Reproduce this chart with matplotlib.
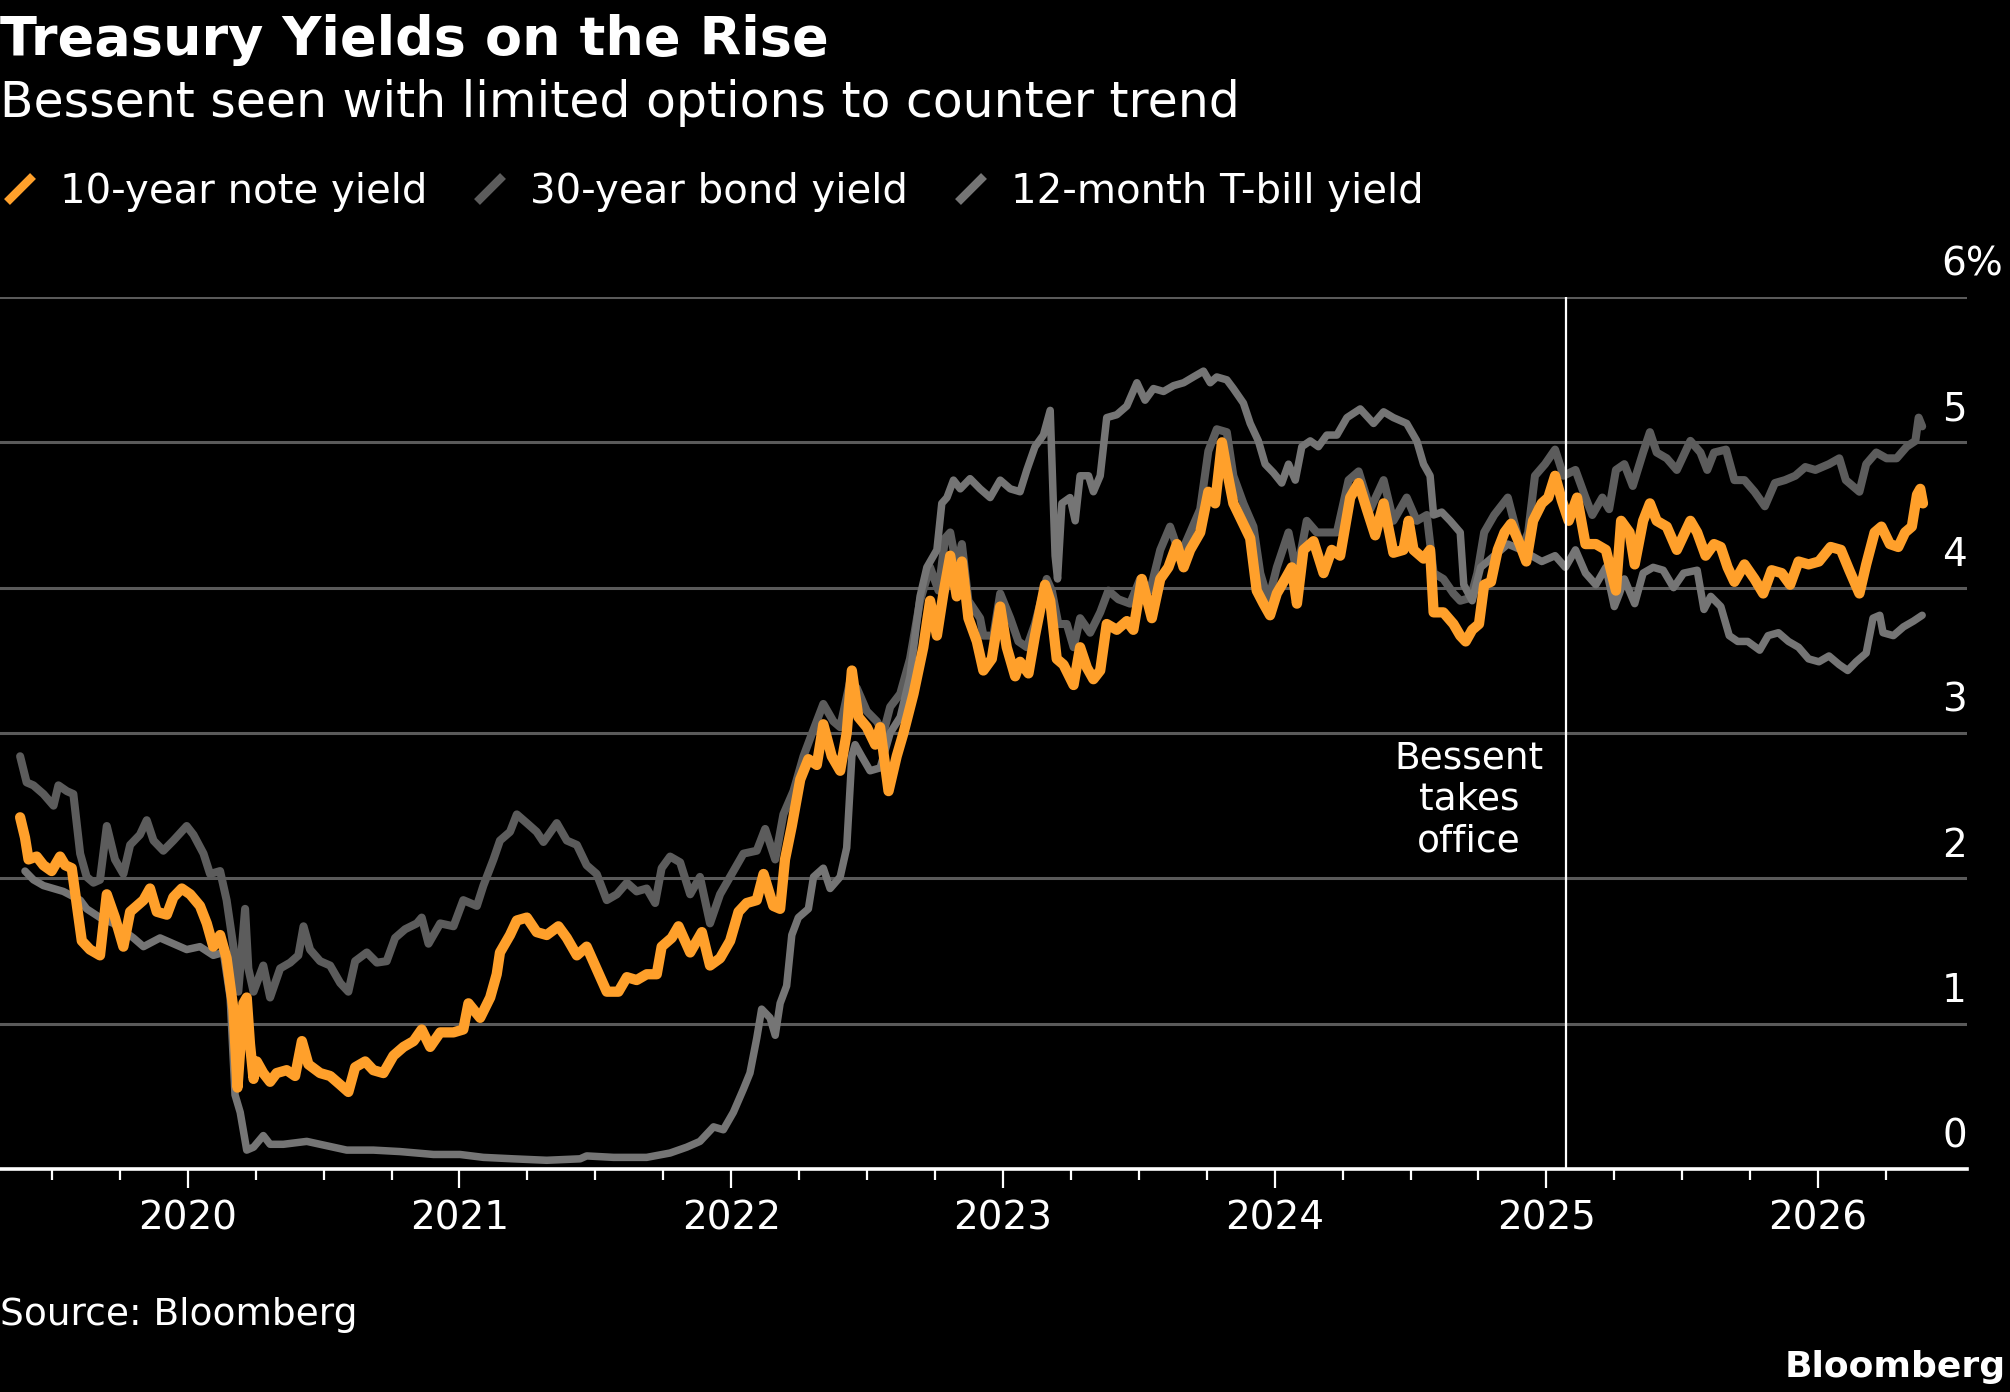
import matplotlib
matplotlib.use("Agg")
import matplotlib.pyplot as plt
import matplotlib.transforms as mtransforms
from matplotlib.lines import Line2D
import numpy as np

# dates as decimal years, yields in percent
t10 = [2019.383, 2019.401, 2019.414, 2019.444, 2019.469, 2019.499, 2019.530, 2019.549,
       2019.573, 2019.610, 2019.640, 2019.677, 2019.702, 2019.732, 2019.763, 2019.788,
       2019.837, 2019.861, 2019.886, 2019.923, 2019.947, 2019.978, 2020.009, 2020.045,
       2020.070, 2020.094, 2020.119, 2020.143, 2020.168, 2020.183, 2020.205, 2020.217,
       2020.229, 2020.242, 2020.254, 2020.278, 2020.303, 2020.327, 2020.364, 2020.395,
       2020.420, 2020.444, 2020.487, 2020.524, 2020.561, 2020.591, 2020.616, 2020.653,
       2020.683, 2020.720, 2020.757, 2020.794, 2020.831, 2020.861, 2020.892, 2020.929,
       2020.978, 2021.014, 2021.033, 2021.076, 2021.113, 2021.137, 2021.149, 2021.186,
       2021.211, 2021.248, 2021.284, 2021.321, 2021.364, 2021.395, 2021.432, 2021.468,
       2021.499, 2021.542, 2021.585, 2021.616, 2021.652, 2021.689, 2021.726, 2021.744,
       2021.781, 2021.806, 2021.849, 2021.892, 2021.922, 2021.959, 2021.996, 2022.027,
       2022.057, 2022.094, 2022.119, 2022.155, 2022.180, 2022.198, 2022.223, 2022.254,
       2022.284, 2022.315, 2022.339, 2022.370, 2022.401, 2022.425, 2022.444, 2022.468,
       2022.499, 2022.530, 2022.548, 2022.579, 2022.609, 2022.634, 2022.671, 2022.707,
       2022.732, 2022.757, 2022.781, 2022.806, 2022.830, 2022.849, 2022.873, 2022.904,
       2022.928, 2022.959, 2022.990, 2023.014, 2023.045, 2023.063, 2023.094, 2023.118,
       2023.155, 2023.174, 2023.198, 2023.223, 2023.260, 2023.284, 2023.309, 2023.333,
       2023.358, 2023.382, 2023.419, 2023.456, 2023.480, 2023.511, 2023.548, 2023.579,
       2023.609, 2023.640, 2023.665, 2023.689, 2023.726, 2023.756, 2023.781, 2023.806,
       2023.824, 2023.848, 2023.879, 2023.910, 2023.934, 2023.959, 2023.983, 2024.008,
       2024.039, 2024.063, 2024.082, 2024.106, 2024.143, 2024.180, 2024.210, 2024.241,
       2024.278, 2024.309, 2024.339, 2024.370, 2024.401, 2024.437, 2024.474, 2024.493,
       2024.511, 2024.548, 2024.572, 2024.585, 2024.621, 2024.658, 2024.683, 2024.703,
       2024.727, 2024.752, 2024.771, 2024.796, 2024.821, 2024.846, 2024.870, 2024.902,
       2024.926, 2024.951, 2024.983, 2025.007, 2025.032, 2025.057, 2025.082, 2025.113,
       2025.144, 2025.182, 2025.219, 2025.256, 2025.275, 2025.306, 2025.325, 2025.356,
       2025.381, 2025.406, 2025.443, 2025.480, 2025.505, 2025.530, 2025.555, 2025.586,
       2025.617, 2025.642, 2025.667, 2025.692, 2025.729, 2025.766, 2025.798, 2025.829,
       2025.866, 2025.897, 2025.928, 2025.965, 2026.003, 2026.046, 2026.084, 2026.115,
       2026.152, 2026.177, 2026.208, 2026.233, 2026.264, 2026.295, 2026.320, 2026.345,
       2026.364, 2026.376, 2026.386]
y10 = [2.42, 2.28, 2.13, 2.15, 2.09, 2.05, 2.15, 2.09,
       2.07, 1.57, 1.51, 1.47, 1.89, 1.73, 1.53, 1.77,
       1.85, 1.93, 1.77, 1.75, 1.87, 1.93, 1.89, 1.81,
       1.69, 1.53, 1.61, 1.45, 1.10, 0.56, 1.14, 1.18,
       0.86, 0.62, 0.74, 0.66, 0.60, 0.66, 0.68, 0.64,
       0.88, 0.72, 0.66, 0.64, 0.58, 0.53, 0.70, 0.74,
       0.68, 0.66, 0.78, 0.84, 0.88, 0.96, 0.84, 0.94,
       0.94, 0.96, 1.14, 1.04, 1.18, 1.34, 1.49, 1.61,
       1.71, 1.73, 1.63, 1.61, 1.67, 1.59, 1.47, 1.53,
       1.40, 1.22, 1.22, 1.32, 1.30, 1.34, 1.34, 1.53,
       1.59, 1.67, 1.49, 1.63, 1.40, 1.45, 1.57, 1.77,
       1.83, 1.85, 2.03, 1.81, 1.79, 2.13, 2.36, 2.68,
       2.82, 2.78, 3.06, 2.84, 2.74, 3.00, 3.43, 3.11,
       3.04, 2.92, 3.04, 2.60, 2.84, 3.00, 3.27, 3.59,
       3.91, 3.67, 3.96, 4.22, 3.94, 4.18, 3.79, 3.63,
       3.43, 3.51, 3.87, 3.59, 3.39, 3.49, 3.41, 3.67,
       4.02, 3.91, 3.51, 3.47, 3.33, 3.59, 3.45, 3.37,
       3.43, 3.75, 3.71, 3.77, 3.71, 4.06, 3.79, 4.06,
       4.14, 4.30, 4.14, 4.26, 4.38, 4.66, 4.58, 5.00,
       4.81, 4.58, 4.46, 4.34, 3.98, 3.89, 3.81, 3.96,
       4.06, 4.14, 3.89, 4.26, 4.32, 4.10, 4.26, 4.22,
       4.62, 4.72, 4.54, 4.36, 4.58, 4.24, 4.26, 4.46,
       4.26, 4.20, 4.26, 3.83, 3.83, 3.75, 3.67, 3.63,
       3.71, 3.75, 4.02, 4.04, 4.26, 4.38, 4.44, 4.30,
       4.18, 4.46, 4.58, 4.62, 4.77, 4.60, 4.46, 4.62,
       4.30, 4.30, 4.26, 3.98, 4.46, 4.38, 4.16, 4.46,
       4.58, 4.46, 4.42, 4.26, 4.36, 4.46, 4.38, 4.22,
       4.30, 4.28, 4.14, 4.04, 4.16, 4.06, 3.96, 4.12,
       4.10, 4.02, 4.18, 4.16, 4.18, 4.28, 4.26, 4.12,
       3.96, 4.16, 4.38, 4.42, 4.30, 4.28, 4.38, 4.42,
       4.64, 4.68, 4.58]

t30 = [2019.383, 2019.407, 2019.432, 2019.469, 2019.506, 2019.524, 2019.555, 2019.579,
       2019.604, 2019.628, 2019.653, 2019.677, 2019.702, 2019.732, 2019.763, 2019.788,
       2019.824, 2019.849, 2019.874, 2019.910, 2019.947, 2019.996, 2020.021, 2020.058,
       2020.082, 2020.119, 2020.143, 2020.168, 2020.186, 2020.211, 2020.223, 2020.242,
       2020.278, 2020.303, 2020.340, 2020.377, 2020.407, 2020.426, 2020.450, 2020.487,
       2020.524, 2020.561, 2020.591, 2020.616, 2020.659, 2020.696, 2020.732, 2020.763,
       2020.800, 2020.843, 2020.861, 2020.886, 2020.929, 2020.978, 2021.014, 2021.064,
       2021.088, 2021.125, 2021.149, 2021.186, 2021.211, 2021.248, 2021.284, 2021.309,
       2021.358, 2021.395, 2021.432, 2021.468, 2021.505, 2021.542, 2021.579, 2021.616,
       2021.652, 2021.689, 2021.720, 2021.744, 2021.775, 2021.812, 2021.849, 2021.885,
       2021.922, 2021.959, 2022.008, 2022.045, 2022.094, 2022.125, 2022.162, 2022.192,
       2022.229, 2022.266, 2022.290, 2022.339, 2022.376, 2022.401, 2022.437, 2022.462,
       2022.499, 2022.536, 2022.560, 2022.585, 2022.622, 2022.658, 2022.695, 2022.732,
       2022.763, 2022.787, 2022.806, 2022.830, 2022.849, 2022.873, 2022.916, 2022.928,
       2022.965, 2022.990, 2023.027, 2023.057, 2023.088, 2023.118, 2023.161, 2023.180,
       2023.204, 2023.235, 2023.260, 2023.284, 2023.321, 2023.358, 2023.388, 2023.425,
       2023.468, 2023.505, 2023.542, 2023.579, 2023.615, 2023.652, 2023.689, 2023.726,
       2023.756, 2023.787, 2023.824, 2023.848, 2023.885, 2023.922, 2023.947, 2023.977,
       2024.008, 2024.051, 2024.082, 2024.118, 2024.155, 2024.192, 2024.229, 2024.272,
       2024.309, 2024.352, 2024.401, 2024.437, 2024.486, 2024.523, 2024.560, 2024.585,
       2024.621, 2024.658, 2024.683, 2024.721, 2024.746, 2024.771, 2024.808, 2024.858,
       2024.908, 2024.933, 2024.958, 2024.995, 2025.032, 2025.063, 2025.107, 2025.144,
       2025.169, 2025.206, 2025.231, 2025.256, 2025.287, 2025.318, 2025.356, 2025.381,
       2025.406, 2025.443, 2025.480, 2025.530, 2025.567, 2025.592, 2025.617, 2025.661,
       2025.692, 2025.729, 2025.766, 2025.804, 2025.841, 2025.878, 2025.916, 2025.953,
       2025.990, 2026.040, 2026.078, 2026.102, 2026.152, 2026.177, 2026.214, 2026.252,
       2026.289, 2026.326, 2026.358, 2026.370, 2026.383]
y30 = [2.84, 2.66, 2.64, 2.58, 2.50, 2.64, 2.60, 2.58,
       2.17, 2.01, 1.97, 1.99, 2.36, 2.13, 2.03, 2.23,
       2.30, 2.40, 2.26, 2.19, 2.26, 2.36, 2.30, 2.17,
       2.03, 2.05, 1.85, 1.53, 1.22, 1.79, 1.38, 1.22,
       1.40, 1.18, 1.38, 1.42, 1.47, 1.67, 1.51, 1.43,
       1.40, 1.28, 1.22, 1.43, 1.49, 1.42, 1.43, 1.59,
       1.65, 1.69, 1.73, 1.55, 1.69, 1.67, 1.85, 1.81,
       1.95, 2.13, 2.26, 2.32, 2.44, 2.38, 2.32, 2.25,
       2.38, 2.26, 2.23, 2.09, 2.03, 1.85, 1.89, 1.97,
       1.91, 1.93, 1.83, 2.07, 2.15, 2.11, 1.89, 2.01,
       1.69, 1.89, 2.05, 2.17, 2.19, 2.34, 2.13, 2.44,
       2.60, 2.84, 2.96, 3.20, 3.08, 3.04, 3.35, 3.31,
       3.15, 3.08, 3.00, 3.18, 3.27, 3.51, 3.91, 4.14,
       3.98, 4.34, 4.38, 4.14, 4.30, 3.91, 3.79, 3.67,
       3.67, 3.96, 3.79, 3.63, 3.59, 3.75, 4.06, 3.98,
       3.75, 3.75, 3.59, 3.79, 3.69, 3.83, 3.98, 3.92,
       3.89, 4.06, 3.98, 4.26, 4.42, 4.22, 4.38, 4.54,
       4.94, 5.09, 5.07, 4.77, 4.58, 4.42, 4.10, 3.91,
       4.14, 4.38, 4.10, 4.46, 4.38, 4.38, 4.38, 4.74,
       4.80, 4.54, 4.74, 4.46, 4.62, 4.46, 4.50, 4.10,
       4.06, 3.96, 3.91, 3.93, 4.10, 4.38, 4.50, 4.62,
       4.26, 4.38, 4.77, 4.85, 4.95, 4.77, 4.81, 4.62,
       4.50, 4.62, 4.54, 4.81, 4.85, 4.70, 4.93, 5.07,
       4.93, 4.89, 4.81, 5.01, 4.93, 4.81, 4.93, 4.95,
       4.74, 4.74, 4.66, 4.56, 4.72, 4.74, 4.77, 4.83,
       4.81, 4.85, 4.89, 4.74, 4.66, 4.85, 4.93, 4.89,
       4.89, 4.97, 5.01, 5.17, 5.11]

t12 = [2019.401, 2019.432, 2019.469, 2019.506, 2019.542, 2019.604, 2019.628, 2019.677,
       2019.726, 2019.800, 2019.837, 2019.898, 2019.947, 2019.996, 2020.045, 2020.094,
       2020.131, 2020.156, 2020.174, 2020.193, 2020.217, 2020.242, 2020.278, 2020.303,
       2020.352, 2020.438, 2020.511, 2020.585, 2020.683, 2020.781, 2020.904, 2021.002,
       2021.088, 2021.198, 2021.321, 2021.444, 2021.468, 2021.567, 2021.689, 2021.775,
       2021.836, 2021.885, 2021.935, 2021.971, 2022.008, 2022.045, 2022.069, 2022.094,
       2022.112, 2022.143, 2022.162, 2022.180, 2022.204, 2022.223, 2022.247, 2022.284,
       2022.303, 2022.339, 2022.364, 2022.401, 2022.425, 2022.444, 2022.456, 2022.480,
       2022.511, 2022.548, 2022.585, 2022.622, 2022.658, 2022.695, 2022.720, 2022.757,
       2022.775, 2022.794, 2022.818, 2022.843, 2022.879, 2022.916, 2022.953, 2022.990,
       2023.027, 2023.063, 2023.088, 2023.118, 2023.149, 2023.174, 2023.192, 2023.201,
       2023.217, 2023.247, 2023.266, 2023.284, 2023.315, 2023.333, 2023.358, 2023.382,
       2023.419, 2023.456, 2023.493, 2023.523, 2023.554, 2023.591, 2023.628, 2023.665,
       2023.701, 2023.738, 2023.763, 2023.787, 2023.824, 2023.848, 2023.885, 2023.910,
       2023.940, 2023.965, 2023.996, 2024.026, 2024.051, 2024.076, 2024.100, 2024.131,
       2024.161, 2024.192, 2024.229, 2024.266, 2024.315, 2024.364, 2024.401, 2024.437,
       2024.486, 2024.523, 2024.548, 2024.572, 2024.585, 2024.615, 2024.646, 2024.683,
       2024.696, 2024.727, 2024.758, 2024.796, 2024.858, 2024.908, 2024.945, 2024.983,
       2025.032, 2025.070, 2025.107, 2025.144, 2025.182, 2025.219, 2025.250, 2025.269,
       2025.287, 2025.325, 2025.356, 2025.393, 2025.430, 2025.468, 2025.505, 2025.555,
       2025.580, 2025.605, 2025.642, 2025.673, 2025.704, 2025.741, 2025.785, 2025.816,
       2025.854, 2025.891, 2025.928, 2025.965, 2026.003, 2026.040, 2026.078, 2026.109,
       2026.140, 2026.177, 2026.202, 2026.227, 2026.239, 2026.277, 2026.314, 2026.351,
       2026.383]
y12 = [2.05, 1.99, 1.95, 1.93, 1.91, 1.85, 1.79, 1.73,
       1.69, 1.59, 1.53, 1.59, 1.55, 1.51, 1.53, 1.47,
       1.49, 1.18, 0.51, 0.39, 0.13, 0.15, 0.23, 0.17,
       0.17, 0.19, 0.16, 0.13, 0.13, 0.12, 0.10, 0.10,
       0.08, 0.07, 0.06, 0.07, 0.09, 0.08, 0.08, 0.11,
       0.15, 0.19, 0.29, 0.27, 0.39, 0.55, 0.66, 0.90,
       1.10, 1.04, 0.92, 1.14, 1.26, 1.61, 1.73, 1.79,
       2.01, 2.07, 1.93, 2.01, 2.21, 2.84, 2.92, 2.84,
       2.74, 2.76, 3.00, 3.11, 3.39, 3.94, 4.14, 4.26,
       4.58, 4.62, 4.74, 4.68, 4.75, 4.68, 4.62, 4.74,
       4.68, 4.66, 4.81, 4.97, 5.05, 5.22, 4.22, 4.06,
       4.58, 4.62, 4.46, 4.77, 4.77, 4.66, 4.77, 5.17,
       5.19, 5.25, 5.41, 5.29, 5.37, 5.35, 5.39, 5.41,
       5.45, 5.49, 5.41, 5.45, 5.43, 5.37, 5.27, 5.13,
       5.01, 4.85, 4.79, 4.72, 4.85, 4.74, 4.97, 5.01,
       4.97, 5.05, 5.05, 5.17, 5.23, 5.13, 5.21, 5.17,
       5.13, 5.01, 4.85, 4.77, 4.50, 4.52, 4.46, 4.38,
       4.02, 3.91, 4.14, 4.20, 4.30, 4.26, 4.22, 4.18,
       4.22, 4.14, 4.26, 4.10, 4.02, 4.14, 3.87, 3.96,
       4.06, 3.89, 4.10, 4.14, 4.12, 4.00, 4.10, 4.12,
       3.85, 3.94, 3.87, 3.67, 3.63, 3.63, 3.57, 3.67,
       3.69, 3.63, 3.59, 3.51, 3.49, 3.53, 3.47, 3.43,
       3.49, 3.55, 3.79, 3.81, 3.69, 3.67, 3.73, 3.77,
       3.81]

bessent_date = 2025.073
year_ticks = [2020, 2021, 2022, 2023, 2024, 2025, 2026]
year_labels = ["2020", "2021", "2022", "2023", "2024", "2025", "2026"]
y_ticks = [0, 1, 2, 3, 4, 5, 6]
y_labels = ["0", "1", "2", "3", "4", "5", "6%"]
series_names = ["10-year note yield", "30-year bond yield", "12-month T-bill yield"]

ORANGE = "#ffa02b"
GREY30 = "#5c5c5c"
GREY12 = "#757575"
GRID = "#5a5a5a"

W, H = 2010, 1392
plt.rcParams["font.family"] = ["DejaVu Sans"]

fig = plt.figure(figsize=(W / 100, H / 100), dpi=100, facecolor="black")


def fx(px):
    return px / W


def fy(py):
    return 1 - py / H


ax = fig.add_axes([0, fy(1169), fx(1967), (1169 - 297) / H])
ax.set_facecolor("black")

ax.plot(t30, y30, color=GREY30, lw=5.8, solid_joinstyle="round", solid_capstyle="round", zorder=3)
ax.plot(t12, y12, color=GREY12, lw=5.4, solid_joinstyle="round", solid_capstyle="round", zorder=4)
ax.plot(t10, y10, color=ORANGE, lw=7.4, solid_joinstyle="round", solid_capstyle="round", zorder=5)
ax.axvline(bessent_date, color="white", lw=1.6, zorder=6)

ax.set_xlim(2019.309, 2026.548)
ax.set_ylim(0, 6)

ax.set_yticks(y_ticks)
ax.tick_params(axis="y", length=0, labelleft=False)
ax.grid(axis="y", color=GRID, lw=2.2, zorder=1)
ax.set_axisbelow(True)

# quarterly minor ticks, yearly major ticks with labels
ax.set_xticks(year_ticks)
ax.set_xticklabels(year_labels)
quarters = [q for q in np.arange(2019.5, 2026.3, 0.25) if q % 1 != 0]
ax.set_xticks(quarters, minor=True)
ax.tick_params(axis="x", which="major", direction="out", length=14, width=1.6,
               color="white", labelcolor="white", labelsize=28, pad=8)
ax.tick_params(axis="x", which="minor", direction="out", length=8, width=1.6, color="white")

for side in ["left", "right", "top"]:
    ax.spines[side].set_visible(False)
ax.spines["bottom"].set_color("white")
ax.spines["bottom"].set_linewidth(2.6)
ax.spines["bottom"].set_zorder(7)

# right-hand value labels sit just above their gridlines
trans = mtransforms.blended_transform_factory(ax.transAxes, ax.transData)
for v, lab in zip(y_ticks, y_labels):
    x = 2003 / 1967 if lab.endswith("%") else 1.0
    ax.text(x, v + 0.15, lab, transform=trans, ha="right", va="baseline",
            color="white", fontsize=28)

ax.annotate("Bessent\ntakes\noffice", xy=(bessent_date, 2.95), xytext=(-70, 0),
            textcoords="offset points", ha="center", va="top", color="white",
            fontsize=27, linespacing=1.2, multialignment="center")

# header
fig.text(fx(0), fy(55), "Treasury Yields on the Rise", color="white", fontsize=39,
         fontweight="bold", ha="left", va="baseline")
fig.text(fx(0), fy(117), "Bessent seen with limited options to counter trend",
         color="white", fontsize=35.2, ha="left", va="baseline")

# legend with slanted swatches
swatch_x = [4, 474, 955]
for x0, name, col in zip(swatch_x, series_names, [ORANGE, GREY30, GREY12]):
    fig.add_artist(Line2D([fx(x0 + 3), fx(x0 + 29)], [fy(202), fy(176)],
                          transform=fig.transFigure, color=col, lw=6,
                          solid_capstyle="butt"))
    fig.text(fx(x0 + 56), fy(203), name, color="white", fontsize=29,
             ha="left", va="baseline")

fig.text(fx(0), fy(1325), "Source: Bloomberg", color="white", fontsize=27,
         ha="left", va="baseline")
fig.text(fx(2006), fy(1377), "Bloomberg", color="white", fontsize=26,
         fontweight="bold", ha="right", va="baseline")

fig.savefig("out.png", dpi=100, facecolor="black")
